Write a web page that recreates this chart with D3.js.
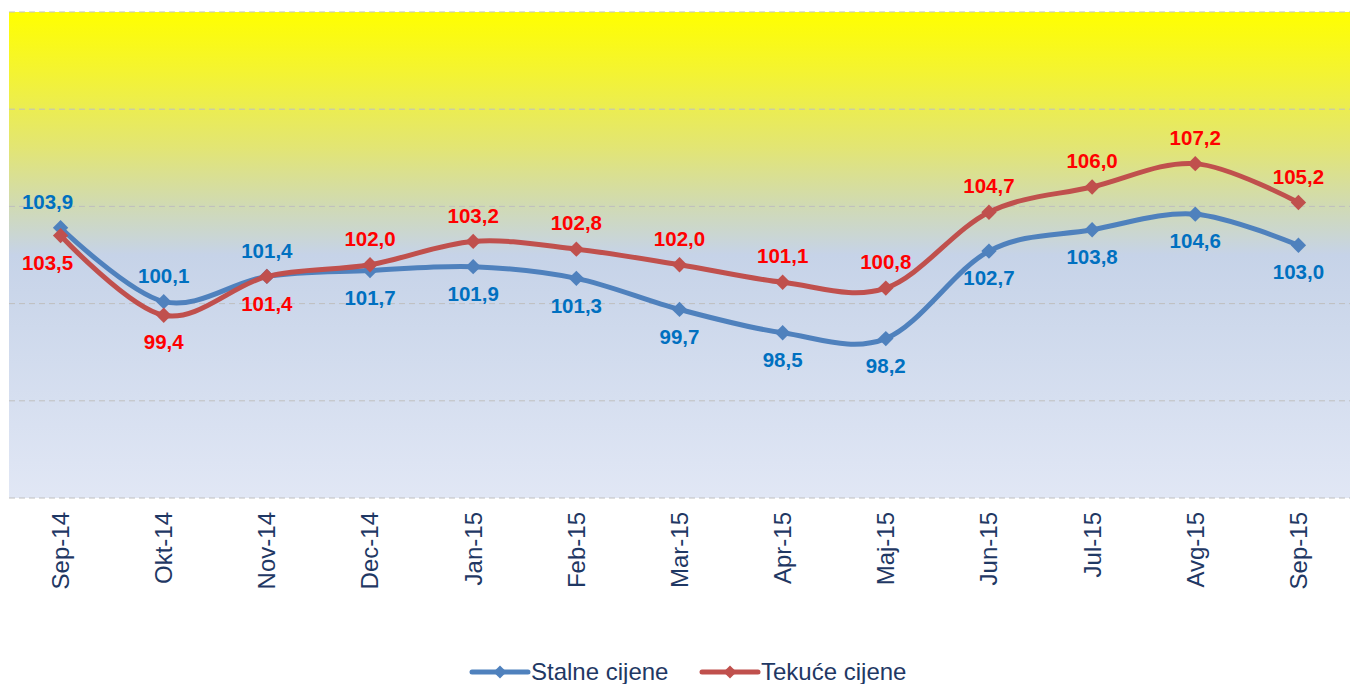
<!DOCTYPE html>
<html>
<head>
<meta charset="utf-8">
<script src="https://cdn.jsdelivr.net/npm/d3@7"></script>
<style>
body { margin: 0; background: #fff; }
svg { display: block; font-family: Arial, "Liberation Sans", sans-serif; }
</style>
</head>
<body>
<svg id="chart"></svg>
<script>
// podaci
const months = ["Sep-14", "Okt-14", "Nov-14", "Dec-14", "Jan-15", "Feb-15", "Mar-15",
                "Apr-15", "Maj-15", "Jun-15", "Jul-15", "Avg-15", "Sep-15"];
const stalne = [103.9, 100.1, 101.4, 101.7, 101.9, 101.3, 99.7, 98.5, 98.2, 102.7, 103.8, 104.6, 103.0];
const tekuce = [103.5, 99.4, 101.4, 102.0, 103.2, 102.8, 102.0, 101.1, 100.8, 104.7, 106.0, 107.2, 105.2];
const yTicks = [90, 95, 100, 105, 110, 115];
const seriesNames = ["Stalne cijene", "Tekuće cijene"];

function drawChart() {
  let width = 1350;
  let height = 684;
  let left = 9, right = 1350, top = 12, bottom = 498;

  let svg = d3.select("#chart")
    .attr("width", width)
    .attr("height", height);
  svg.selectAll("*").remove();

  // gradijent pozadine
  let grad = svg.append("defs").append("linearGradient")
    .attr("id", "bg")
    .attr("x1", 0).attr("y1", 0).attr("x2", 0).attr("y2", 1);
  [["0%", "#ffff00"], ["12%", "#f4f430"], ["28%", "#e2e574"], ["40%", "#d0dab4"], ["50%", "#c6d3e8"], ["100%", "#e1e7f5"]]
    .forEach(s => grad.append("stop").attr("offset", s[0]).attr("stop-color", s[1]));

  let x = d3.scaleBand()
    .domain(months)
    .range([left, right]);
  let y = d3.scaleLinear()
    .domain([d3.min(yTicks), d3.max(yTicks)])
    .range([bottom, top]);

  svg.append("rect")
    .attr("x", left).attr("y", top)
    .attr("width", right - left).attr("height", bottom - top)
    .attr("fill", "url(#bg)");

  // mreža
  svg.append("g")
    .selectAll("line")
    .data(yTicks)
    .enter()
    .append("line")
    .attr("x1", left).attr("x2", right)
    .attr("y1", d => y(d)).attr("y2", d => y(d))
    .style("stroke", "#bfbfbf")
    .style("stroke-width", 1)
    .style("stroke-dasharray", "6,4");

  // x osa
  let axisX = d3.axisBottom(x).tickSize(0).tickPadding(0);
  let gx = svg.append("g")
    .attr("transform", `translate(0, ${bottom})`)
    .call(axisX);
  gx.select(".domain").remove();
  gx.selectAll("text")
    .style("font-size", "24px")
    .style("font-family", "Arial, 'Liberation Sans', sans-serif")
    .attr("fill", "#1f3864")
    .style("text-anchor", "end")
    .attr("dx", "-14px")
    .attr("dy", "0.35em")
    .attr("y", 0)
    .attr("transform", "rotate(-90)");

  let cx = d => x(d) + x.bandwidth() / 2;
  let lineF = d3.line()
    .x(d => cx(d.m))
    .y(d => y(d.v))
    .curve(d3.curveCatmullRom.alpha(0));

  let series = [
    { name: seriesNames[0], vals: stalne, color: "#4f81bd", label: "#0070c0" },
    { name: seriesNames[1], vals: tekuce, color: "#c0504d", label: "#ff0000" }
  ];
  let diamond = d3.symbol().type(d3.symbolDiamond2).size(150);

  series.forEach(s => {
    let pts = months.map((m, i) => ({ m: m, v: s.vals[i] }));
    svg.append("path")
      .datum(pts)
      .attr("d", lineF)
      .style("fill", "none")
      .style("stroke", s.color)
      .style("stroke-width", 5)
      .style("stroke-linejoin", "round");
    svg.append("g")
      .selectAll("path")
      .data(pts)
      .enter()
      .append("path")
      .attr("d", diamond)
      .attr("transform", d => `translate(${cx(d.m)}, ${y(d.v)})`)
      .attr("fill", s.color);
  });

  // oznake vrijednosti: veća serija iznad, manja ispod
  series.forEach((s, k) => {
    let other = series[1 - k].vals;
    svg.append("g")
      .selectAll("text")
      .data(months)
      .enter()
      .append("text")
      .attr("x", (d, i) => cx(d) - (i == 0 ? 13 : 0))
      .attr("y", (d, i) => {
        let above = k == 0 ? s.vals[i] >= other[i] : s.vals[i] > other[i];
        return y(s.vals[i]) + (above ? -26 : 27);
      })
      .attr("dy", "0.35em")
      .attr("text-anchor", "middle")
      .style("font-size", "20.5px")
      .style("font-weight", "bold")
      .attr("fill", s.label)
      .text((d, i) => s.vals[i].toFixed(1).replace(".", ","));
  });

  // legenda
  let leg = svg.append("g");
  let lx = [472, 702];
  series.forEach((s, k) => {
    let g = leg.append("g").attr("transform", `translate(${lx[k]}, 672)`);
    g.append("line")
      .attr("x1", 0).attr("x2", 56).attr("y1", 0).attr("y2", 0)
      .style("stroke", s.color).style("stroke-width", 5)
      .style("stroke-linecap", "round");
    g.append("path")
      .attr("d", d3.symbol().type(d3.symbolDiamond2).size(110))
      .attr("transform", "translate(28, 0)")
      .attr("fill", s.color);
    g.append("text")
      .attr("x", 59).attr("y", 0).attr("dy", "0.35em")
      .style("font-size", "24px")
      .attr("fill", "#1f3864")
      .text(s.name);
  });
}

document.addEventListener("DOMContentLoaded", () => {
  drawChart();
});
</script>
</body>
</html>
